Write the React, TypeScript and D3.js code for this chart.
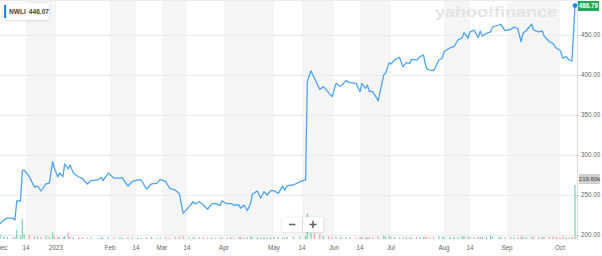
import React from "react";
import * as d3 from "d3";

const dates = [
  "2022-11-30","2022-12-02","2022-12-04","2022-12-07","2022-12-08","2022-12-09","2022-12-11","2022-12-12","2022-12-13","2022-12-16",
  "2022-12-19","2022-12-21","2022-12-23","2022-12-26","2022-12-28","2022-12-30","2022-12-31","2023-01-02","2023-01-03","2023-01-05",
  "2023-01-06","2023-01-08","2023-01-09","2023-01-11","2023-01-14","2023-01-16","2023-01-19","2023-01-21","2023-01-25","2023-01-27",
  "2023-01-28","2023-01-31","2023-02-03","2023-02-06","2023-02-07","2023-02-10","2023-02-12","2023-02-15","2023-02-17","2023-02-20",
  "2023-02-23","2023-02-26","2023-02-28","2023-03-03","2023-03-05","2023-03-08","2023-03-10","2023-03-12","2023-03-15","2023-03-17",
  "2023-03-18","2023-03-20","2023-03-22","2023-03-24","2023-03-26","2023-03-28","2023-03-30","2023-03-31","2023-04-03","2023-04-05",
  "2023-04-07","2023-04-10","2023-04-11","2023-04-13","2023-04-15","2023-04-17","2023-04-18","2023-04-21","2023-04-23","2023-04-25",
  "2023-04-27","2023-04-29","2023-05-01","2023-05-03","2023-05-05","2023-05-06","2023-05-07","2023-05-10","2023-05-13","2023-05-16",
  "2023-05-17","2023-05-19","2023-05-21","2023-05-24","2023-05-26","2023-05-29","2023-05-31","2023-06-02","2023-06-04","2023-06-05",
  "2023-06-07","2023-06-09","2023-06-12","2023-06-14","2023-06-15","2023-06-17","2023-06-18","2023-06-19","2023-06-21","2023-06-24",
  "2023-06-27","2023-06-28","2023-06-30","2023-07-01","2023-07-03","2023-07-06","2023-07-08","2023-07-10","2023-07-12","2023-07-13",
  "2023-07-16","2023-07-18","2023-07-20","2023-07-21","2023-07-22","2023-07-24","2023-07-26","2023-07-29","2023-07-31","2023-08-01",
  "2023-08-04","2023-08-06","2023-08-08","2023-08-10","2023-08-11","2023-08-13","2023-08-14","2023-08-16","2023-08-18","2023-08-19",
  "2023-08-20","2023-08-22","2023-08-24","2023-08-25","2023-08-28","2023-08-29","2023-08-31","2023-09-03","2023-09-05","2023-09-07",
  "2023-09-09","2023-09-10","2023-09-12","2023-09-15","2023-09-16","2023-09-19","2023-09-21","2023-09-22","2023-09-25","2023-09-27",
  "2023-09-29","2023-10-01","2023-10-02","2023-10-03","2023-10-04","2023-10-05","2023-10-06",
];

const closes = [
  213.8, 218.8, 221, 221, 218.8, 242.5, 242.5, 280.4, 281, 273,
  260, 261, 255, 264, 265, 291.6, 283.8, 272.5, 277.5, 273,
  288.8, 282.5, 287.5, 277.5, 272.5, 271, 263.8, 267.9, 268.8, 272,
  268, 277.5, 271, 271, 271.6, 261, 266.6, 268.8, 268.8, 257.5,
  263.8, 264.6, 269.6, 266.6, 258.4, 256, 252, 227, 235.4, 241.6,
  238.8, 241.6, 237.5, 232, 238.8, 239.6, 236.6, 242.5, 238.8, 239.6,
  237.5, 237.5, 233.4, 237.5, 230.4, 239.6, 251, 255, 246, 254,
  250, 255.4, 255.4, 252, 261, 256, 261.6, 262.5, 266.6, 268.8,
  391.6, 405.4, 396, 382, 385.4, 378, 373, 389.6, 386, 387.5,
  393, 390.4, 389.6, 379, 389.6, 383.4, 387.5, 380, 379, 368,
  400, 402, 415.4, 413.8, 418.8, 422, 410.4, 415.4, 414.6, 419.6,
  418.8, 422.9, 425, 414.6, 407.5, 406, 405.4, 418.8, 421, 429,
  434, 435.4, 443.8, 446, 453, 446, 454, 456, 447, 455,
  448.8, 452, 454, 460, 462.5, 463.4, 455.4, 457, 460, 458.4,
  441.6, 452, 456, 463.4, 456, 454, 455, 448.8, 441.6, 439.6,
  433.4, 431, 421, 423, 418.8, 417.5, 486.79,
];

const volumes = [
  20, 10, 8, 6, 9, 37, 14, 83, 20, 16, 12, 10, 8, 12, 9, 27, 12,
  10, 8, 9, 12, 26, 8, 9, 7, 8, 6, 7, 5, 9, 6, 8, 7, 6, 5, 7, 6, 6, 5, 7, 8, 6, 7, 6, 5, 7, 9,
  12, 9, 8, 6, 7, 8, 6, 7, 5, 6, 7, 6, 8, 5, 7, 9, 6, 7, 10, 8, 7, 6, 8, 6, 7, 8, 9, 7, 6, 8, 9, 10, 12,
  104, 25, 22, 18, 12, 10, 8,
  9, 7, 6, 8, 7, 6, 9, 8, 7, 6, 8, 7, 9,
  14, 10, 12, 9, 8, 7, 8, 9, 7, 6, 8, 7, 9, 10, 8, 7, 9, 11, 8, 10,
  9, 8, 7, 10, 12, 9, 8, 7, 9, 8, 10, 9, 14, 8, 7, 9, 8, 7, 6, 8,
  12, 9, 8, 7, 9, 8, 7, 8, 9, 10, 8, 7, 12, 8, 7, 9, 219.6,
];

const yTicks = [200, 250, 300, 350, 400, 450];
const xTickDates = [
  "2022-12-01","2022-12-14","2023-01-01","2023-02-01","2023-02-14","2023-03-01","2023-03-14","2023-04-01",
  "2023-05-01","2023-05-14","2023-06-01","2023-06-14","2023-07-01","2023-08-01","2023-08-14","2023-09-01","2023-10-01",
];
const xTickLabels = ["Dec","14","2023","Feb","14","Mar","14","Apr","May","14","Jun","14","Jul","Aug","14","Sep","Oct"];
const symbol = "NWLI";
const legendValue = "446.07";
const lastPriceLabel = "486.79";
const lastVolumeLabel = "219.60k";

const W = 602;
const H = 256;
const parse = d3.timeParse("%Y-%m-%d");
// piecewise (trading-day compressed) time axis knots
const knotDates = ["2022-11-30", ...xTickDates, "2023-10-06"].map((d) => parse(d) as Date);
const knotPx = [0, 2, 26, 56, 110, 136, 162, 187, 224, 274, 302, 334, 360, 391, 444, 470, 507, 560, 575];

const FONT = "'Liberation Sans', Arial, Helvetica, sans-serif";

export default function App() {
  const x = d3.scaleTime().domain(knotDates).range(knotPx);
  const y = d3.scaleLinear().domain([200, 450]).range([235, 35]);
  const vy = d3.scaleLinear().domain([0, 219.6]).range([239, 185]);
  const axisX = 577.5;

  const pts = dates.map((d, i) => ({ date: parse(d) as Date, close: closes[i], vol: volumes[i] }));
  const line = d3
    .line<{ date: Date; close: number }>()
    .x((d) => x(d.date))
    .y((d) => y(d.close));

  const tickDates = xTickDates.map((d) => parse(d) as Date);
  const bands: { x0: number; x1: number }[] = [];
  for (let i = 1; i < tickDates.length - 1; i += 2) {
    bands.push({ x0: x(tickDates[i]), x1: x(tickDates[i + 1]) });
  }
  const last = pts[pts.length - 1];

  return (
    <>
      <style>{`body{margin:0;background:#fff}`}</style>
      <svg width={W} height={H} style={{ display: "block", fontFamily: FONT }}>
        <defs>
          <filter id="sh" x="-20%" y="-30%" width="140%" height="160%">
            <feDropShadow dx="0" dy="0.5" stdDeviation="1" floodColor="#000" floodOpacity="0.18" />
          </filter>
          <clipPath id="plot">
            <rect x={0} y={0} width={axisX} height={240} />
          </clipPath>
        </defs>
        <rect x={0} y={0} width={W} height={H} fill="#fff" />
        {bands.map((b, i) => (
          <rect key={i} x={b.x0} y={0} width={b.x1 - b.x0} height={240} fill="#f5f5f5" />
        ))}
        <line x1={0} x2={axisX} y1={0.5} y2={0.5} stroke="#ececec" />
        {yTicks.map((t) => (
          <line key={t} x1={0} x2={axisX} y1={y(t) + 0.5} y2={y(t) + 0.5} stroke="#ebebeb" strokeWidth={1} />
        ))}
        <text x={435} y={17} fontSize={15} fontWeight={900} fill="#e4e4e4" textLength={122} lengthAdjust="spacingAndGlyphs">
          yahoo!finance
        </text>
        <g clipPath="url(#plot)">
          {pts.map((p, i) => {
            const up = i === 0 || p.close >= pts[i - 1].close;
            return (
              <rect
                key={i}
                x={x(p.date) - 0.6}
                y={vy(p.vol)}
                width={1.2}
                height={vy(0) - vy(p.vol)}
                fill={up ? "#6fd6aa" : "#f5a0a6"}
              />
            );
          })}
          <path d={line(pts) || ""} fill="none" stroke="#4ca4f4" strokeWidth={1.3} strokeLinejoin="round" />
        </g>
        <circle cx={x(last.date)} cy={y(last.close)} r={2.4} fill="#1c86f0" />
        <line x1={axisX} x2={axisX} y1={0} y2={240} stroke="#dcdcdc" />
        {yTicks.map((t) => (
          <g key={t}>
            <line x1={axisX} x2={axisX + 2} y1={y(t) + 0.5} y2={y(t) + 0.5} stroke="#ccc" />
            <text x={581} y={y(t) + 2.2} fontSize={6.3} fill="#666">
              {t.toFixed(2)}
            </text>
          </g>
        ))}
        <rect x={578} y={1} width={21} height={10} fill="#1fa85a" />
        <text x={588.5} y={8.3} fontSize={6.3} fontWeight={700} fill="#fff" textAnchor="middle">
          {lastPriceLabel}
        </text>
        <rect x={579} y={174} width={21} height={10} fill="#d0d0d0" />
        <text x={589.5} y={181.3} fontSize={6} fill="#333" textAnchor="middle">
          {lastVolumeLabel}
        </text>
        {tickDates.map((d, i) => (
          <text key={i} x={x(d)} y={249.5} fontSize={6.3} fill="#666" textAnchor="middle">
            {xTickLabels[i]}
          </text>
        ))}
        <g filter="url(#sh)">
          <rect x={3} y={3} width={46} height={17} rx={1.5} fill="#fff" />
        </g>
        <rect x={4} y={5} width={2.2} height={13} fill="#1c86f0" />
        <text x={9} y={14} fontSize={6.6} fontWeight={700} fill="#444">
          {symbol}
          <tspan dx={3}>{legendValue}</tspan>
        </text>
        <g filter="url(#sh)">
          <rect x={282} y={217} width={20} height={15} fill="#fff" />
          <rect x={303} y={217} width={20} height={15} fill="#fff" />
        </g>
        <line x1={289} x2={295.5} y1={224.5} y2={224.5} stroke="#666" strokeWidth={1.6} />
        <line x1={309.5} x2={316.5} y1={224.5} y2={224.5} stroke="#666" strokeWidth={1.6} />
        <line x1={313} x2={313} y1={221} y2={228} stroke="#666" strokeWidth={1.6} />
      </svg>
    </>
  );
}
